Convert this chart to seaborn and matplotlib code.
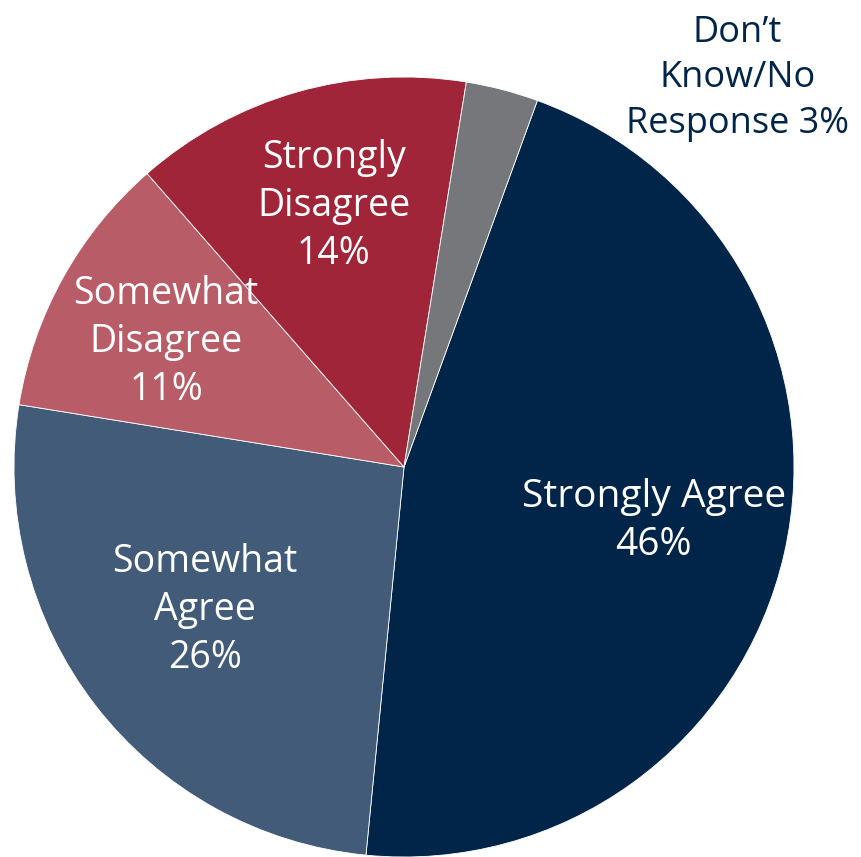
import matplotlib
matplotlib.use("Agg")
import matplotlib.pyplot as plt
import seaborn as sns

sns.set_theme(style="white")
plt.rcParams['font.family'] = ['Open Sans', 'DejaVu Sans']

# Data
categories = ["Strongly Agree", "Somewhat Agree", "Somewhat Disagree",
              "Strongly Disagree", "Don\u2019t Know/No Response"]
shares = [46, 26, 11, 14, 3]
labels = ["Strongly Agree\n46%", "Somewhat\nAgree\n26%", "Somewhat\nDisagree\n11%",
          "Strongly\nDisagree\n14%", "Don\u2019t\nKnow/No\nResponse 3%"]
colors = ["#012549", "#425b78", "#b85c68", "#a02538", "#76777b"]

# label centres, in units of the pie radius
label_xy = [(0.64, -0.138), (-0.51, -0.367), (-0.61, 0.32), (-0.18, 0.67), (0.855, 0.997)]
label_color = ["white", "white", "white", "white", "#012549"]
label_size = [28, 27, 27, 27, 26]

fig = plt.figure(figsize=(8.62, 8.57), dpi=100)
ax = fig.add_axes([14 / 862, 0, 780 / 862, 780 / 857])

wedges, _ = ax.pie(shares, colors=colors, startangle=70, counterclock=False,
                   radius=1, wedgeprops=dict(linewidth=0.6, edgecolor="white"))

for text, (x, y), c, s in zip(labels, label_xy, label_color, label_size):
    ax.text(x, y, text, ha="center", va="center", color=c, fontsize=s,
            linespacing=1.35, clip_on=False)

ax.set_xlim(-1, 1)
ax.set_ylim(-1, 1)
ax.set_aspect("equal")
ax.axis("off")

fig.savefig("out.png", dpi=100)
